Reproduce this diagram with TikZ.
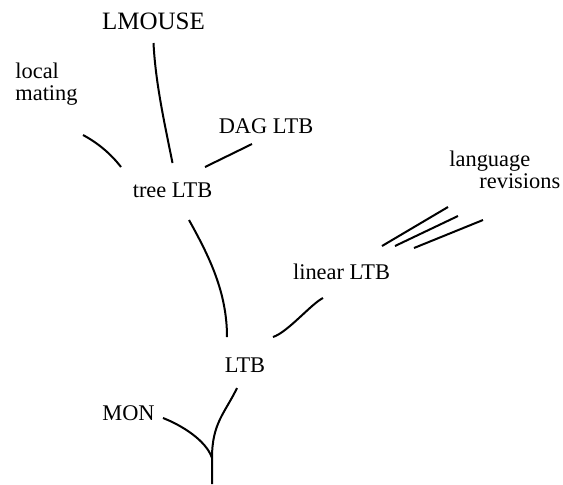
\documentclass[tikz,border=0pt]{standalone}
\usepackage{fontspec}
\setmainfont{Liberation Serif}
\usepackage{tikz}
\tikzset{every picture/.append style={font=\fontsize{11.2}{11}\selectfont}}

\begin{document}
\begin{tikzpicture}[x=0.5pt,y=-0.5pt,
    lbl/.style={inner sep=0pt,anchor=base},
    link/.style={line width=1pt}]
  \useasboundingbox (0,0) rectangle (563,484);
  \node[lbl,font=\fontsize{12.5}{13}\selectfont] (lmouse) at (153.5,29) {LMOUSE};
  \node[lbl,anchor=base west,align=left] (local) at (15,100) {local\\mating};
  \node[lbl] (dag) at (266,133) {DAG LTB};
  \node[lbl] (tree) at (172.5,197) {tree LTB};
  \node[lbl,anchor=base west,align=left] (lang) at (449,188) {language\\\hspace*{15pt}revisions};
  \node[lbl] (linear) at (341.5,279) {linear LTB};
  \node[lbl] (ltb) at (245,372) {LTB};
  \node[lbl] (mon) at (128.5,420) {MON};
  \coordinate (root) at (212,458);
  \coordinate (stem) at (212,484);
  % branches into tree LTB
  \draw[link] ([shift={(0,14)}]lmouse.base) .. controls +(2,40) and +(-8,-40) .. ([shift={(0,-34)}]tree.base);
  \draw[link] ([shift={(68,35)}]local.base west) .. controls +(15,8) and +(-10,-13) .. ([shift={(-51.5,-30)}]tree.base);
  \draw[link] ([shift={(-14,11)}]dag.base) -- ([shift={(32.5,-30)}]tree.base);
  % language revisions
  \foreach \sx/\sy/\ex/\ey in {40.5/-33/-1/19, 53.5/-33/9/28, 72.5/-31/34/32}
    \draw[link] ([shift={(\sx,\sy)}]linear.base) -- ([shift={(\ex,\ey)}]lang.base west);
  % into LTB
  \draw[link] ([shift={(16.5,23)}]tree.base) .. controls +(20,36) and +(0,-45) .. ([shift={(-18,-35)}]ltb.base);
  \draw[link] ([shift={(-18.5,19)}]linear.base) .. controls +(-12,6) and +(15,-5) .. ([shift={(28,-35)}]ltb.base);
  % down to the root
  \draw[link] ([shift={(-8,16)}]ltb.base) .. controls +(-12,25) and +(0,-35) .. (root) -- (stem);
  \draw[link] ([shift={(34.5,-2)}]mon.base) .. controls +(18,7) and +(-6,-18) .. (root);
\end{tikzpicture}
\end{document}
